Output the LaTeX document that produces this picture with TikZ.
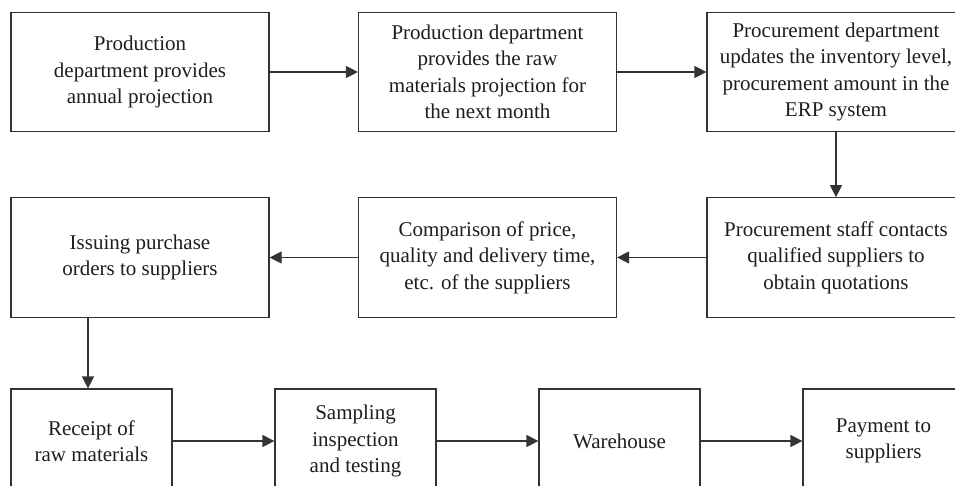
\documentclass[tikz,border=0pt]{standalone}
\usepackage{fontspec}
\setmainfont{Liberation Serif}
\usetikzlibrary{arrows.meta}
\definecolor{ln}{HTML}{333333}
\definecolor{tx}{HTML}{1E1E1E}
\begin{document}
\begin{tikzpicture}[x=1pt,y=-1pt,
  box/.style={draw=ln,line width=1.2pt,rectangle,align=center,inner sep=0pt,
    text=tx,font=\fontsize{21}{26.5}\selectfont},
  wide/.style={box,minimum width=258pt,minimum height=119.5pt},
  small/.style={box,minimum width=161pt,minimum height=104pt},
  arr/.style={draw=ln,line width=1.2pt,-{Triangle[length=12pt,width=12pt]}}]
\clip (0,0) rectangle (955,485);
\fill[white] (0,0) rectangle (955,485);
\node[wide] (b1) at (140,72) {Production\\department provides\\annual projection};
\node[wide] (b2) at (487.5,72) {Production department\\provides the raw\\materials projection for\\the next month};
\node[wide] (b3) at (836,72) {Procurement department\\updates the inventory level,\\procurement amount in the\\ERP system};
\node[wide] (b4) at (140,257.5) {Issuing purchase\\orders to suppliers};
\node[wide] (b5) at (487.5,257.5) {Comparison of price,\\quality and delivery time,\\etc. of the suppliers};
\node[wide] (b6) at (836,257.5) {Procurement staff contacts\\qualified suppliers to\\obtain quotations};
\node[small] (b7) at (91.5,441) {Receipt of\\raw materials};
\node[small] (b8) at (355.5,441) {Sampling\\inspection\\and testing};
\node[small] (b9) at (619.5,441) {Warehouse};
\node[small] (b10) at (883.5,441) {Payment to\\suppliers};
\draw[arr] (b1) -- (b2);
\draw[arr] (b2) -- (b3);
\draw[arr] (b3) -- (b6);
\draw[arr] (b6) -- (b5);
\draw[arr] (b5) -- (b4);
\draw[arr] ([xshift=-3.5pt]b7.north |- b4.south) -- ([xshift=-3.5pt]b7.north);
\draw[arr] (b7) -- (b8);
\draw[arr] (b8) -- (b9);
\draw[arr] (b9) -- (b10);
\end{tikzpicture}
\end{document}
